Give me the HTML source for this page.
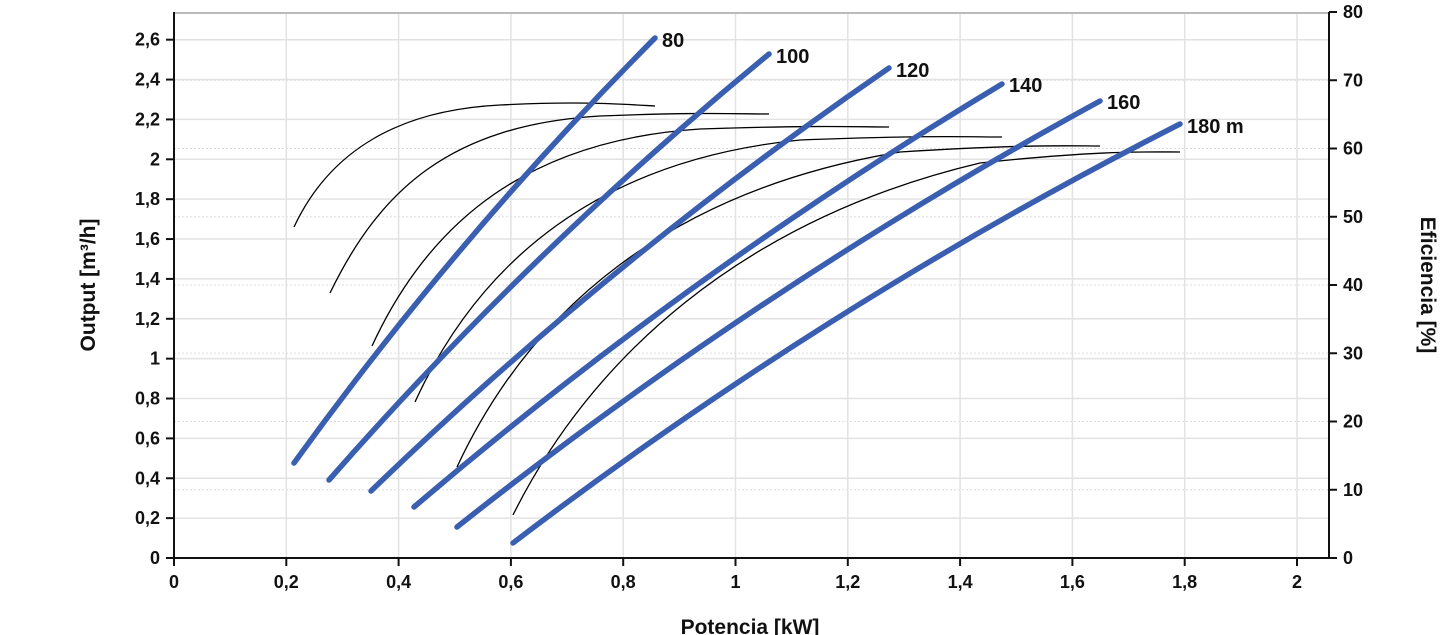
<!DOCTYPE html>
<html><head><meta charset="utf-8"><style>
html,body{margin:0;padding:0;background:#fff;width:1445px;height:635px;overflow:hidden}
text{font-family:"Liberation Sans",Arial,sans-serif;fill:#111}
</style></head><body>
<svg id="s" width="1445" height="635" xmlns="http://www.w3.org/2000/svg">
<g id="grid"></g>
<line x1="174" y1="13" x2="1329" y2="13" stroke="#bbb" stroke-width="2"/>
<g fill="none" stroke="#000" stroke-width="1.3">
<path d="M294,227 C330,150 400,110 500,105 C580,101 620,104 655,106"/>
<path d="M330,293 C380,190 450,125 600,116 C700,112 740,114 769,114"/>
<path d="M372,346 C430,220 530,140 700,129 C820,125 860,127 889,127"/>
<path d="M415,402 C480,260 600,160 800,140 C930,135 970,137 1002,137"/>
<path d="M457,467 C530,310 670,190 900,152 C1030,144 1070,146 1100,146"/>
<path d="M513,515 C590,360 740,220 980,163 C1100,150 1150,152 1180,152"/>
</g>
<g id="blue" fill="none" stroke="#3a5fb0" stroke-width="5.5" stroke-linecap="round"></g>
<g font-size="20" font-weight="bold">
<text x="662" y="47">80</text>
<text x="776" y="63">100</text>
<text x="896" y="77">120</text>
<text x="1009" y="92">140</text>
<text x="1107" y="109">160</text>
<text x="1187" y="133">180 m</text>
</g>
<g id="axes" stroke="#111" stroke-width="2"></g>
<g id="labels" font-size="18" font-weight="bold"></g>
<text font-size="21" font-weight="bold" text-anchor="middle" transform="translate(95,285) rotate(-90)">Output [m³/h]</text>
<text font-size="21" font-weight="bold" text-anchor="middle" transform="translate(1421,285) rotate(90)">Eficiencia [%]</text>
<text font-size="21" font-weight="bold" text-anchor="middle" x="750" y="634">Potencia [kW]</text>
</svg>
<script>
var NS="http://www.w3.org/2000/svg";
function el(p,t,a,txt){var e=document.createElementNS(NS,t);for(var k in a)e.setAttribute(k,a[k]);if(txt!==undefined)e.textContent=txt;document.getElementById(p).appendChild(e);}
function fmt(v){return (Math.round(v*10)/10).toString().replace('.',',');}
var B=[[294,463,655,38,22],[329,480,769,54,25],[371,491,889,68,28],[414,507,1002,84,30],[457,527,1100,101,33],[513,543,1180,124,36]];
B.forEach(function(b){var mx=(b[0]+b[2])/2,my=(b[1]+b[3])/2,dx=b[2]-b[0],dy=b[3]-b[1],L=Math.hypot(dx,dy);
 var nx=dy/L,ny=-dx/L;
 var cx=mx+nx*b[4],cy=my+ny*b[4];
 el("blue","path",{d:"M"+b[0]+","+b[1]+" Q"+cx+","+cy+" "+b[2]+","+b[3]});});
for(var i=0;i<=13;i++){var y=558-i*39.87;
 if(i>0)el("grid","line",{x1:174,x2:1329,y1:y,y2:y,stroke:"#e2e2e2","stroke-width":1.5});
 el("axes","line",{x1:166,x2:174,y1:y,y2:y});
 el("labels","text",{x:160,y:y+6,"text-anchor":"end"},fmt(i*0.2));}
for(var i=0;i<=8;i++){var y=558-i*68.25;
 if(i>0&&i<8)el("grid","line",{x1:174,x2:1329,y1:y,y2:y,stroke:"#ddd","stroke-width":1,"stroke-dasharray":"2,2"});
 el("axes","line",{x1:1329,x2:1337,y1:y,y2:y});
 el("labels","text",{x:1343,y:y+6},String(i*10));}
for(var i=0;i<=10;i++){var x=174+i*112.3;
 if(i>0)el("grid","line",{x1:x,x2:x,y1:13,y2:558,stroke:"#e2e2e2","stroke-width":1.5});
 el("axes","line",{x1:x,x2:x,y1:558,y2:566});
 el("labels","text",{x:x,y:588,"text-anchor":"middle"},fmt(i*0.2));}
el("axes","line",{x1:174,x2:174,y1:12,y2:559});
el("axes","line",{x1:1329,x2:1329,y1:12,y2:559});
el("axes","line",{x1:173,x2:1330,y1:558,y2:558});
</script>
</body></html>
